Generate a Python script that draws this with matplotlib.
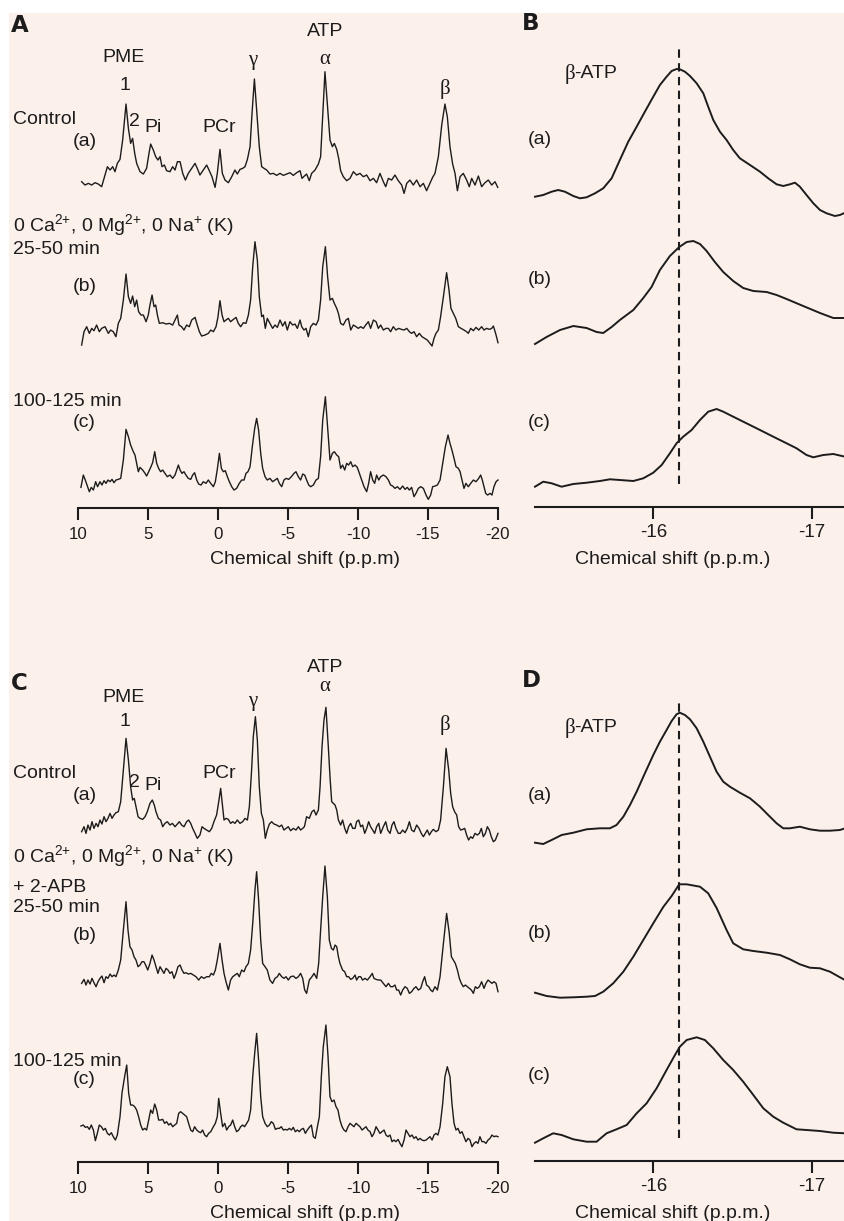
import numpy as np
import matplotlib.pyplot as plt
from matplotlib.patches import Rectangle

plt.rcParams['font.family'] = ['Liberation Sans', 'DejaVu Sans']
plt.rcParams['mathtext.fontset'] = 'custom'
plt.rcParams['mathtext.rm'] = 'Liberation Sans'
plt.rcParams['mathtext.it'] = 'Liberation Sans:italic'
plt.rcParams['mathtext.bf'] = 'Liberation Sans:bold'

# ---- 31P spectra, full range (ppm, intensity in arbitrary units) ----
# panel A: (a) control, (b) 25-50 min, (c) 100-125 min
A_a = [(9.74,40),(9.50,30),(9.26,35),(9.02,30),(8.79,37),(8.55,33),(8.31,25),(8.07,60),(7.90,85),(7.71,75),
       (7.52,85),(7.36,70),(7.19,95),(7.00,107),(6.81,165),(6.57,273),(6.40,200),(6.24,155),(6.10,170),(5.95,125),
       (5.81,95),(5.57,70),(5.33,63),(5.10,80),(4.93,125),(4.81,153),(4.62,135),(4.45,115),(4.29,105),(4.14,115),
       (4.00,85),(3.83,90),(3.67,73),(3.43,70),(3.24,85),(3.07,75),(2.90,100),(2.71,100),(2.52,65),(2.33,45),
       (2.12,65),(1.88,80),(1.64,95),(1.48,80),(1.29,60),(1.05,75),(0.81,90),(0.62,73),(0.43,55),(0.21,23),
       (0.05,65),(-0.14,137),(-0.31,65),(-0.50,45),(-0.74,37),(-0.98,55),(-1.21,75),(-1.38,63),(-1.57,77),(-1.76,80),
       (-1.93,85),(-2.10,107),(-2.29,145),(-2.43,245),(-2.60,348),(-2.76,255),(-2.95,145),(-3.12,85),(-3.29,80),(-3.48,75),
       (-3.71,63),(-3.95,65),(-4.19,59),(-4.43,65),(-4.67,59),(-4.90,63),(-5.14,67),(-5.38,59),(-5.62,67),(-5.86,73),
       (-6.00,50),(-6.17,57),(-6.33,63),(-6.52,43),(-6.69,65),(-6.93,75),(-7.17,93),(-7.33,115),(-7.48,240),(-7.64,370),
       (-7.81,275),(-8.00,165),(-8.17,145),(-8.31,155),(-8.48,137),(-8.62,110),(-8.76,73),(-8.95,55),(-9.19,43),(-9.43,50),
       (-9.67,70),(-9.90,60),(-10.14,65),(-10.38,55),(-10.62,60),(-10.86,43),(-11.10,50),(-11.33,37),(-11.57,65),(-11.81,40),
       (-11.98,25),(-12.17,50),(-12.40,45),(-12.64,60),(-12.88,43),(-13.12,30),(-13.29,5),(-13.48,35),(-13.71,45),(-13.95,30),
       (-14.19,45),(-14.43,25),(-14.67,35),(-14.90,13),(-15.14,35),(-15.33,53),(-15.50,65),(-15.74,115),(-15.98,210),(-16.21,273),
       (-16.38,235),(-16.57,145),(-16.76,93),(-16.93,65),(-17.10,13),(-17.29,55),(-17.52,65),(-17.76,45),(-17.95,25),(-18.12,50),
       (-18.36,30),(-18.60,57),(-18.83,25),(-19.07,37),(-19.31,45),(-19.55,30),(-19.79,40),(-19.98,23)]

A_b = [(9.74,5),(9.57,45),(9.38,60),(9.19,40),(9.02,55),(8.86,48),(8.67,65),(8.48,45),(8.31,55),(8.07,60),
       (7.83,40),(7.67,50),(7.48,45),(7.29,30),(7.12,70),(6.95,85),(6.76,140),(6.57,218),(6.40,150),(6.24,130),
       (6.10,152),(5.95,120),(5.81,140),(5.67,105),(5.50,95),(5.33,95),(5.14,75),(4.98,95),(4.86,125),(4.71,155),
       (4.57,120),(4.45,125),(4.33,95),(4.19,70),(3.95,72),(3.71,68),(3.48,70),(3.24,65),(3.07,80),(2.90,95),
       (2.79,65),(2.60,60),(2.43,50),(2.24,65),(2.05,60),(1.88,80),(1.64,88),(1.48,65),(1.33,45),(1.17,32),
       (0.93,35),(0.69,40),(0.52,50),(0.33,45),(0.14,60),(0.00,90),(-0.14,138),(-0.29,95),(-0.43,75),(-0.57,80),
       (-0.74,85),(-0.90,75),(-1.10,82),(-1.29,88),(-1.45,70),(-1.62,60),(-1.81,72),(-2.00,70),(-2.17,95),(-2.33,140),
       (-2.48,240),(-2.64,315),(-2.81,260),(-2.95,150),(-3.12,90),(-3.24,95),(-3.38,55),(-3.52,85),(-3.71,70),(-3.90,55),
       (-4.07,65),(-4.24,58),(-4.43,80),(-4.62,62),(-4.79,75),(-4.95,50),(-5.14,75),(-5.33,65),(-5.50,68),(-5.67,55),
       (-5.86,80),(-5.98,60),(-6.14,50),(-6.29,55),(-6.45,30),(-6.62,60),(-6.81,70),(-7.00,65),(-7.17,80),(-7.33,140),
       (-7.48,240),(-7.67,300),(-7.83,210),(-8.00,140),(-8.17,145),(-8.31,130),(-8.48,115),(-8.60,100),(-8.76,70),(-8.95,65),
       (-9.14,80),(-9.31,85),(-9.48,50),(-9.67,65),(-9.86,60),(-10.02,55),(-10.19,60),(-10.38,55),(-10.55,65),(-10.74,75),
       (-10.90,55),(-11.10,80),(-11.29,75),(-11.45,55),(-11.62,65),(-11.81,50),(-12.00,55),(-12.17,55),(-12.33,45),(-12.52,60),
       (-12.71,50),(-12.90,55),(-13.10,52),(-13.29,50),(-13.48,55),(-13.67,45),(-13.83,40),(-14.00,45),(-14.19,30),(-14.38,40),
       (-14.57,30),(-14.76,25),(-14.95,20),(-15.14,10),(-15.29,2),(-15.43,25),(-15.57,40),(-15.74,50),(-15.90,90),(-16.10,150),
       (-16.33,222),(-16.50,170),(-16.64,115),(-16.81,100),(-16.98,85),(-17.17,60),(-17.36,55),(-17.57,50),(-17.76,45),(-17.88,40),
       (-18.05,55),(-18.24,48),(-18.43,58),(-18.62,50),(-18.83,60),(-19.00,50),(-19.19,55),(-19.38,52),(-19.55,55),(-19.67,62),
       (-19.83,40),(-20.00,12)]

A_c = [(9.79,38),(9.62,75),(9.48,60),(9.33,42),(9.19,25),(9.05,38),(8.90,30),(8.74,55),(8.60,40),(8.43,55),
       (8.29,45),(8.14,58),(8.00,50),(7.86,60),(7.71,55),(7.57,62),(7.43,52),(7.29,60),(7.12,62),(6.95,65),
       (6.76,120),(6.57,212),(6.40,190),(6.24,165),(6.05,145),(5.93,135),(5.81,110),(5.69,85),(5.57,98),(5.38,90),
       (5.21,80),(5.10,72),(4.95,85),(4.81,98),(4.67,112),(4.52,145),(4.38,110),(4.24,95),(4.10,85),(3.95,90),
       (3.79,80),(3.62,70),(3.43,75),(3.24,65),(3.07,75),(2.95,90),(2.83,105),(2.71,90),(2.57,80),(2.43,85),
       (2.29,75),(2.12,65),(1.95,62),(1.81,75),(1.67,82),(1.52,60),(1.38,48),(1.21,45),(1.05,55),(0.86,50),
       (0.69,60),(0.52,50),(0.33,40),(0.19,55),(0.05,92),(-0.10,140),(-0.24,95),(-0.38,85),(-0.52,88),(-0.67,70),
       (-0.81,55),(-0.98,40),(-1.14,30),(-1.33,35),(-1.52,50),(-1.69,60),(-1.86,60),(-2.00,80),(-2.14,85),(-2.29,100),
       (-2.45,160),(-2.62,215),(-2.76,245),(-2.90,210),(-3.05,140),(-3.19,95),(-3.36,70),(-3.52,60),(-3.71,65),(-3.90,55),
       (-4.07,60),(-4.24,65),(-4.38,50),(-4.55,40),(-4.71,60),(-4.86,65),(-5.05,62),(-5.24,70),(-5.43,80),(-5.57,85),
       (-5.74,70),(-5.90,60),(-6.05,78),(-6.19,75),(-6.33,60),(-6.48,45),(-6.62,40),(-6.81,45),(-7.00,60),(-7.17,65),
       (-7.33,130),(-7.48,240),(-7.67,310),(-7.83,220),(-8.00,120),(-8.17,140),(-8.31,145),(-8.48,135),(-8.62,130),(-8.76,95),
       (-8.90,105),(-9.05,90),(-9.19,110),(-9.33,105),(-9.48,115),(-9.62,100),(-9.79,105),(-9.95,98),(-10.10,80),(-10.26,60),
       (-10.43,40),(-10.62,25),(-10.76,50),(-10.90,85),(-11.05,60),(-11.19,50),(-11.33,75),(-11.48,60),(-11.62,70),(-11.81,75),
       (-12.00,70),(-12.17,60),(-12.33,45),(-12.48,42),(-12.64,35),(-12.81,40),(-13.00,32),(-13.19,42),(-13.36,32),(-13.52,38),
       (-13.67,30),(-13.83,38),(-14.00,10),(-14.14,20),(-14.31,35),(-14.48,40),(-14.67,35),(-14.86,15),(-15.02,2),(-15.19,15),
       (-15.33,40),(-15.50,42),(-15.67,45),(-15.86,60),(-16.05,110),(-16.24,160),(-16.43,195),(-16.57,170),(-16.71,150),(-16.86,125),
       (-17.00,100),(-17.17,95),(-17.29,85),(-17.43,60),(-17.57,35),(-17.71,50),(-17.88,40),(-18.05,50),(-18.24,60),(-18.43,55),
       (-18.62,65),(-18.76,75),(-18.88,60),(-19.00,40),(-19.12,20),(-19.26,15),(-19.43,20),(-19.57,15),(-19.71,40),(-19.86,55),
       (-20.00,60)]

# panel C: same protocol + 2-APB
C_a = [(9.74,33),(9.57,48),(9.43,28),(9.29,53),(9.14,38),(9.00,63),(8.86,43),(8.71,58),(8.57,48),(8.43,68),
       (8.29,56),(8.14,78),(8.00,63),(7.86,73),(7.71,88),(7.57,73),(7.43,83),(7.29,90),(7.12,93),(6.95,123),
       (6.76,218),(6.57,313),(6.40,248),(6.24,168),(6.10,128),(5.98,133),(5.86,108),(5.71,78),(5.57,73),(5.38,70),
       (5.21,78),(5.05,93),(4.86,118),(4.69,128),(4.55,113),(4.43,93),(4.26,73),(4.10,68),(3.95,48),(3.79,58),
       (3.62,63),(3.43,53),(3.26,58),(3.07,48),(2.90,56),(2.76,63),(2.60,53),(2.43,48),(2.24,63),(2.10,68),
       (1.95,58),(1.81,43),(1.64,28),(1.48,13),(1.29,23),(1.14,48),(1.00,43),(0.81,38),(0.62,33),(0.45,43),
       (0.29,63),(0.10,83),(-0.07,128),(-0.19,163),(-0.33,108),(-0.43,68),(-0.57,73),(-0.74,70),(-0.90,58),(-1.05,63),
       (-1.21,58),(-1.38,68),(-1.57,58),(-1.76,63),(-1.93,73),(-2.10,68),(-2.24,108),(-2.40,218),(-2.52,318),(-2.67,378),
       (-2.81,308),(-2.95,168),(-3.10,88),(-3.24,68),(-3.38,13),(-3.52,38),(-3.67,56),(-3.83,63),(-4.00,56),(-4.19,53),
       (-4.38,48),(-4.55,53),(-4.71,38),(-4.86,43),(-5.02,48),(-5.19,36),(-5.38,43),(-5.57,38),(-5.74,48),(-5.90,38),
       (-6.05,43),(-6.17,48),(-6.33,78),(-6.52,73),(-6.71,93),(-6.86,98),(-7.00,83),(-7.17,98),(-7.29,168),(-7.43,288),
       (-7.57,368),(-7.71,406),(-7.88,288),(-8.00,198),(-8.12,123),(-8.24,118),(-8.36,113),(-8.48,98),(-8.60,68),(-8.76,53),
       (-8.90,68),(-9.05,43),(-9.19,28),(-9.33,48),(-9.48,58),(-9.62,43),(-9.79,43),(-9.90,63),(-10.05,68),(-10.19,48),
       (-10.33,53),(-10.48,28),(-10.62,43),(-10.76,63),(-10.90,48),(-11.05,38),(-11.19,28),(-11.33,48),(-11.48,58),(-11.62,28),
       (-11.81,48),(-11.98,63),(-12.12,38),(-12.29,28),(-12.43,53),(-12.57,63),(-12.71,43),(-12.88,28),(-13.02,28),(-13.19,38),
       (-13.36,30),(-13.52,43),(-13.67,63),(-13.83,38),(-14.00,33),(-14.19,53),(-14.36,43),(-14.52,28),(-14.67,18),(-14.81,28),
       (-14.95,38),(-15.10,23),(-15.24,33),(-15.38,40),(-15.57,33),(-15.74,38),(-15.90,68),(-16.10,168),(-16.29,283),(-16.48,218),
       (-16.62,148),(-16.76,108),(-16.90,93),(-17.05,83),(-17.19,48),(-17.33,38),(-17.48,40),(-17.62,43),(-17.76,23),(-17.90,8),
       (-18.05,18),(-18.19,13),(-18.36,28),(-18.52,23),(-18.67,28),(-18.81,43),(-18.95,18),(-19.10,28),(-19.24,48),(-19.38,38),
       (-19.52,18),(-19.67,3),(-19.81,8),(-19.95,23),(-20.00,28)]

C_b = [(9.74,40),(9.57,52),(9.43,35),(9.29,50),(9.14,38),(9.00,55),(8.86,42),(8.71,30),(8.57,45),(8.43,55),
       (8.29,62),(8.14,42),(8.00,60),(7.86,55),(7.71,68),(7.57,60),(7.43,65),(7.29,60),(7.12,80),(6.95,110),
       (6.76,200),(6.57,285),(6.43,200),(6.29,150),(6.14,140),(6.00,120),(5.86,110),(5.71,90),(5.57,95),(5.43,105),
       (5.29,105),(5.17,95),(5.02,80),(4.86,100),(4.71,125),(4.57,110),(4.43,90),(4.29,70),(4.14,90),(4.00,80),
       (3.86,70),(3.71,85),(3.57,80),(3.43,70),(3.29,75),(3.14,55),(3.00,70),(2.86,90),(2.71,95),(2.57,80),
       (2.43,70),(2.29,72),(2.12,68),(1.95,70),(1.76,65),(1.57,60),(1.38,50),(1.19,60),(1.00,55),(0.81,60),
       (0.62,60),(0.48,70),(0.33,65),(0.19,80),(0.05,110),(-0.14,160),(-0.29,110),(-0.43,70),(-0.57,45),(-0.74,20),
       (-0.90,50),(-1.05,60),(-1.21,65),(-1.38,70),(-1.52,60),(-1.69,80),(-1.86,75),(-2.00,90),(-2.17,100),(-2.33,140),
       (-2.48,220),(-2.64,320),(-2.76,375),(-2.90,290),(-3.05,170),(-3.19,100),(-3.36,90),(-3.52,80),(-3.71,50),(-3.90,40),
       (-4.07,55),(-4.24,60),(-4.38,70),(-4.55,60),(-4.71,55),(-4.86,60),(-5.02,50),(-5.19,60),(-5.38,62),(-5.57,55),
       (-5.74,60),(-5.90,70),(-6.05,55),(-6.19,20),(-6.33,10),(-6.52,50),(-6.71,60),(-6.86,70),(-7.05,55),(-7.19,100),
       (-7.33,200),(-7.48,300),(-7.64,392),(-7.81,300),(-7.95,170),(-8.10,145),(-8.24,140),(-8.36,155),(-8.48,150),(-8.60,120),
       (-8.71,100),(-8.90,80),(-9.05,75),(-9.19,60),(-9.33,60),(-9.48,52),(-9.62,55),(-9.79,65),(-9.90,50),(-10.05,60),
       (-10.19,60),(-10.33,50),(-10.50,55),(-10.67,50),(-10.86,60),(-11.02,70),(-11.14,55),(-11.29,52),(-11.45,50),(-11.62,50),
       (-11.81,40),(-12.00,30),(-12.17,40),(-12.33,30),(-12.48,30),(-12.64,35),(-12.76,20),(-12.90,20),(-13.05,5),(-13.19,20),
       (-13.36,30),(-13.52,25),(-13.67,10),(-13.83,15),(-14.00,25),(-14.14,30),(-14.31,20),(-14.48,25),(-14.62,45),(-14.76,60),
       (-14.90,35),(-15.05,30),(-15.19,20),(-15.33,15),(-15.50,30),(-15.67,20),(-15.86,60),(-16.10,160),(-16.33,250),(-16.52,190),
       (-16.67,120),(-16.81,110),(-16.95,100),(-17.10,80),(-17.24,55),(-17.38,40),(-17.52,30),(-17.67,35),(-17.81,30),(-17.95,25),
       (-18.10,20),(-18.24,10),(-18.38,30),(-18.52,25),(-18.67,30),(-18.83,45),(-19.00,25),(-19.14,40),(-19.29,50),(-19.43,45),
       (-19.57,40),(-19.71,45),(-19.86,40),(-20.00,15)]

C_c = [(9.79,64),(9.62,67),(9.48,60),(9.33,62),(9.19,54),(9.05,67),(8.90,52),(8.76,20),(8.62,42),(8.48,67),
       (8.33,62),(8.19,52),(8.05,57),(7.90,42),(7.76,37),(7.62,44),(7.48,32),(7.33,22),(7.19,37),(7.00,92),
       (6.86,162),(6.67,212),(6.52,247),(6.38,162),(6.24,127),(6.10,127),(5.95,122),(5.81,112),(5.67,92),(5.52,67),
       (5.38,52),(5.24,57),(5.10,52),(4.95,82),(4.81,112),(4.67,102),(4.52,130),(4.38,112),(4.24,82),(4.10,82),
       (3.95,84),(3.81,72),(3.67,77),(3.52,67),(3.38,72),(3.24,62),(3.10,67),(2.95,72),(2.81,102),(2.67,107),
       (2.52,102),(2.38,97),(2.24,92),(2.10,72),(1.95,52),(1.81,47),(1.67,62),(1.52,52),(1.38,47),(1.24,44),
       (1.10,52),(0.95,37),(0.81,32),(0.67,42),(0.52,47),(0.33,62),(0.19,72),(0.05,92),(-0.05,147),(-0.19,102),
       (-0.33,62),(-0.48,72),(-0.62,52),(-0.76,62),(-0.90,67),(-1.05,82),(-1.19,62),(-1.33,47),(-1.48,52),(-1.62,62),
       (-1.76,67),(-1.90,62),(-2.05,72),(-2.19,82),(-2.33,112),(-2.48,212),(-2.62,282),(-2.76,342),(-2.90,262),(-3.05,152),
       (-3.19,92),(-3.36,72),(-3.52,62),(-3.67,67),(-3.81,77),(-3.95,72),(-4.10,54),(-4.24,57),(-4.38,57),(-4.52,62),
       (-4.67,52),(-4.81,54),(-4.95,52),(-5.10,57),(-5.24,52),(-5.38,60),(-5.52,47),(-5.67,52),(-5.81,47),(-5.95,54),
       (-6.10,57),(-6.24,42),(-6.38,52),(-6.52,60),(-6.67,67),(-6.81,32),(-6.95,27),(-7.10,62),(-7.24,92),(-7.38,212),
       (-7.52,302),(-7.71,367),(-7.86,272),(-8.00,152),(-8.14,137),(-8.29,142),(-8.43,122),(-8.57,112),(-8.71,82),(-8.86,62),
       (-9.00,52),(-9.14,47),(-9.29,62),(-9.43,72),(-9.57,67),(-9.71,62),(-9.86,72),(-10.00,67),(-10.14,62),(-10.29,52),
       (-10.43,57),(-10.57,62),(-10.71,52),(-10.86,47),(-11.00,32),(-11.14,42),(-11.29,62),(-11.43,52),(-11.57,42),(-11.71,47),
       (-11.86,52),(-12.00,37),(-12.14,32),(-12.29,37),(-12.43,17),(-12.57,22),(-12.71,17),(-12.86,24),(-13.00,12),(-13.14,2),
       (-13.29,22),(-13.43,52),(-13.57,42),(-13.71,32),(-13.86,37),(-14.00,27),(-14.14,32),(-14.29,22),(-14.43,27),(-14.57,22),
       (-14.71,20),(-14.86,22),(-15.00,27),(-15.14,32),(-15.29,22),(-15.43,37),(-15.57,42),(-15.71,37),(-15.86,62),(-16.05,132),
       (-16.21,212),(-16.38,242),(-16.57,212),(-16.71,132),(-16.86,72),(-17.00,52),(-17.14,57),(-17.29,42),(-17.43,47),(-17.57,32),
       (-17.71,17),(-17.86,27),(-18.00,22),(-18.14,2),(-18.29,12),(-18.43,17),(-18.57,12),(-18.71,32),(-18.86,17),(-19.00,17),
       (-19.14,12),(-19.29,22),(-19.43,27),(-19.57,37),(-19.71,32),(-19.86,34),(-20.00,32)]

# ---- beta-ATP region, expanded ----
B_a = [(-15.253,20.3),(-15.305,22),(-15.358,25.3),(-15.400,27),(-15.442,25.3),(-15.495,21),(-15.537,18.7),(-15.579,19.7),
       (-15.632,23.7),(-15.684,28.7),(-15.737,38.7),(-15.789,57),(-15.842,75.3),(-15.895,90.3),(-15.947,105.3),(-16.000,120.3),
       (-16.042,132),(-16.084,140.3),(-16.116,146),(-16.147,148),(-16.168,147.7),(-16.200,145.3),(-16.232,141),(-16.274,133.7),
       (-16.316,123.7),(-16.347,110.3),(-16.379,97),(-16.421,85.3),(-16.463,77),(-16.505,67),(-16.547,58.7),(-16.611,52),
       (-16.674,45.3),(-16.726,38.7),(-16.779,32.7),(-16.821,31),(-16.863,32.7),(-16.895,34.3),(-16.926,30.3),(-16.968,22),
       (-17.011,13.7),(-17.053,7),(-17.095,3.7),(-17.147,1),(-17.179,2),(-17.211,4.3)]
B_b = [(-15.253,1),(-15.326,8),(-15.411,15),(-15.495,19),(-15.579,17),(-15.642,13),(-15.684,12),(-15.737,18),
       (-15.789,25),(-15.874,35),(-15.937,47),(-15.989,58),(-16.042,75),(-16.105,89),(-16.164,98),(-16.211,103),
       (-16.253,104),(-16.295,101),(-16.337,94),(-16.389,83),(-16.442,73),(-16.505,64),(-16.568,57),(-16.632,54),
       (-16.716,53),(-16.779,50),(-16.842,46),(-16.947,39),(-17.053,32),(-17.137,27),(-17.211,27)]
B_c = [(-15.253,1.3),(-15.305,6.3),(-15.358,4.7),(-15.421,1.3),(-15.495,4),(-15.579,5.3),(-15.663,7),(-15.726,8.7),
       (-15.789,8),(-15.874,7),(-15.937,9.7),(-16.000,15.3),(-16.053,23),(-16.105,34.7),(-16.147,44.7),(-16.189,51.3),
       (-16.242,58),(-16.295,68),(-16.347,76.3),(-16.400,79),(-16.442,76.3),(-16.505,71.3),(-16.589,64.7),(-16.674,58),
       (-16.758,51.3),(-16.842,44.7),(-16.905,39.7),(-16.968,33),(-17.011,30.7),(-17.074,33),(-17.137,34),(-17.211,31.3)]

D_a = [(-15.253,2.3),(-15.305,1),(-15.358,5),(-15.421,10),(-15.495,12.3),(-15.579,15.7),(-15.663,16.7),(-15.726,16.7),
       (-15.768,20),(-15.811,28.3),(-15.853,40),(-15.895,53.3),(-15.947,71.7),(-16.000,90),(-16.042,103.3),(-16.084,115),
       (-16.116,124),(-16.147,130.7),(-16.168,132.3),(-16.200,130),(-16.232,125.7),(-16.274,116.7),(-16.316,103.3),(-16.358,88.3),
       (-16.400,73.3),(-16.442,63.3),(-16.484,58.3),(-16.547,52.3),(-16.611,46.7),(-16.674,38.3),(-16.726,30),(-16.779,21.7),
       (-16.821,16.7),(-16.863,16.7),(-16.926,18.3),(-16.989,15.7),(-17.053,14.3),(-17.116,14.3),(-17.179,15),(-17.211,16.7)]
D_b = [(-15.253,5.3),(-15.326,2),(-15.411,0.3),(-15.495,0.7),(-15.579,1.3),(-15.632,2),(-15.684,6.3),(-15.747,14.7),
       (-15.811,26.3),(-15.874,41.3),(-15.937,58),(-16.000,74.7),(-16.063,91),(-16.116,102),(-16.164,113.7),(-16.211,113.7),
       (-16.295,111.3),(-16.347,104.7),(-16.400,90),(-16.463,68),(-16.505,54.7),(-16.568,48.7),(-16.632,47),(-16.716,45.3),
       (-16.800,43),(-16.863,38.7),(-16.926,33.7),(-16.989,30.3),(-17.053,29.7),(-17.116,26.3),(-17.179,20.7),(-17.211,18)]
D_c = [(-15.253,0.3),(-15.305,4.7),(-15.368,9.7),(-15.421,8),(-15.495,3.7),(-15.579,1.3),(-15.642,1.3),(-15.705,9.7),
       (-15.768,13.7),(-15.832,18),(-15.895,29.7),(-15.958,39.7),(-16.021,54.7),(-16.084,73),(-16.137,88),(-16.168,96.3),
       (-16.211,103),(-16.274,105.7),(-16.326,103),(-16.379,94.7),(-16.442,83),(-16.505,73),(-16.568,61.3),(-16.632,48),
       (-16.695,34.7),(-16.758,26.3),(-16.821,20.3),(-16.905,13.7),(-16.968,13),(-17.053,12),(-17.137,10.3),(-17.211,9.7)]

beta_ref = -16.16
full_ticks = [10, 5, 0, -5, -10, -15, -20]
full_ticklabels = ['10', '5', '0', '-5', '-10', '-15', '-20']
zoom_ticks = [-16, -17]
zoom_ticklabels = ['-16', '-17']

# ---- layout (pixels of the 845 x 1221 canvas) ----
W, H = 845, 1221
PINK = '#fcf0eb'
INK = '#1c1c1c'
FS = 14
GREEK = ['Liberation Serif', 'DejaVu Serif']

fig = plt.figure(figsize=(W / 100, H / 100), dpi=100, facecolor='white')
fig.add_artist(Rectangle((9 / W, 0), 1 - 9 / W, 1 - 13 / H, transform=fig.transFigure,
                         facecolor=PINK, edgecolor='none', zorder=-5))


def px_axes(left, right, top, bottom):
    return fig.add_axes([left / W, 1 - bottom / H, (right - left) / W, (bottom - top) / H])


def txt(x, y, s, ha='left', size=FS, **kw):
    fig.text(x / W, 1 - y / H, s, ha=ha, va='center', fontsize=size, color=INK, **kw)


def style(ax, xlim, ylim, ticks, labels, lsize, pad):
    ax.set_xlim(*xlim)
    ax.set_ylim(*ylim)
    ax.patch.set_visible(False)
    for s in ['top', 'right', 'left']:
        ax.spines[s].set_visible(False)
    ax.spines['bottom'].set_linewidth(1.5)
    ax.spines['bottom'].set_color(INK)
    ax.set_yticks([])
    ax.set_xticks(ticks)
    ax.set_xticklabels(labels)
    ax.tick_params(axis='x', direction='out', length=8.4, width=1.5, pad=pad,
                   labelsize=lsize, colors=INK)


def trace(ax, pairs, offset, lw):
    x, y = np.array(pairs).T
    ax.plot(x, y + offset, color=INK, lw=lw, clip_on=False)


# panel A and C: full spectra (y unit = 1/3 px)
for top, axis_y, traces, offs in [(13, 507.7, [A_a, A_b, A_c], [938, 483, 23]),
                                 (667, 1161.7, [C_a, C_b, C_c], [957, 495, 43])]:
    ax = px_axes(78, 498, top, axis_y)
    style(ax, (10, -20), (0, (axis_y - top) * 3), full_ticks, full_ticklabels, 12.2, 5.2)
    for tr, off in zip(traces, offs):
        trace(ax, tr, off, 1.0)

# panel B and D: beta-ATP (y unit = 1 px)
for top, axis_y, traces, offs, dash in [(13, 506.7, [B_a, B_b, B_c], [289.7, 161.7, 18.7], (22.7, 460)),
                                       (667, 1160.7, [D_a, D_b, D_c], [315.7, 162.7, 17.7], (22.7, 458.7))]:
    ax = px_axes(535, 845, top, axis_y)
    h = axis_y - top
    style(ax, (-15.253, -17.211), (0, h), zoom_ticks, zoom_ticklabels, 13.5, 4.2)
    for tr, off in zip(traces, offs):
        trace(ax, tr, off, 1.4)
    ax.axvline(beta_ref, ymin=dash[0] / h, ymax=dash[1] / h, color=INK, lw=1.5,
               ls=(0, (4, 2.6)))

# axis titles
txt(305.5, 559, 'Chemical shift (p.p.m)', ha='center')
txt(673, 560, 'Chemical shift (p.p.m.)', ha='center')
txt(305.5, 1213, 'Chemical shift (p.p.m)', ha='center')
txt(673, 1213, 'Chemical shift (p.p.m.)', ha='center')

# panel letters
for x, y, s in [(11, 25.5, 'A'), (522, 24, 'B'), (11, 684, 'C'), (522, 680, 'D')]:
    txt(x, y, s, size=16.5, fontweight='bold', family='DejaVu Sans')

# peak labels, A and C
for dy, ys in [(0, [57, 86, 122, 127.5, 128, 61, 32, 59, 89]),
               (0, [697.5, 722, 782.5, 786, 773, 701.7, 667.5, 686.7, 725])]:
    for x, y, s in zip([124, 125, 134.5, 153, 219, 253, 325, 325, 445], ys,
                       ['PME', '1', '2', 'Pi', 'PCr', 'γ', 'ATP', 'α', 'β']):
        if s in 'γαβ':
            txt(x, y, s, ha='center', size=FS + 1, family=GREEK)
        else:
            txt(x, y, s, ha='center')

ions = r'0 Ca$^{2{+}}$, 0 Mg$^{2{+}}$, 0 Na$^{{+}}$ (K)'
# condition labels, A
txt(13, 119.5, 'Control')
txt(73, 141, '(a)')
txt(13, 225, ions)
txt(13, 250, '25-50 min')
txt(73, 286, '(b)')
txt(13, 401.5, '100-125 min')
txt(73, 422, '(c)')
# condition labels, C
txt(13, 773, 'Control')
txt(73, 796, '(a)')
txt(13, 856, ions)
txt(13, 888, '+ 2-APB')
txt(13, 907.5, '25-50 min')
txt(73, 935, '(b)')
txt(13, 1061, '100-125 min')
txt(73, 1080, '(c)')

# labels B and D
for y in [74, 727.5]:
    txt(565, y, 'β', size=FS + 1, family=GREEK)
    txt(574, y, '-ATP')
for y, s in [(139, '(a)'), (280, '(b)'), (422, '(c)'), (796, '(a)'), (934, '(b)'), (1076, '(c)')]:
    txt(528, y, s)

fig.savefig('out.png', dpi=100, facecolor='white')
